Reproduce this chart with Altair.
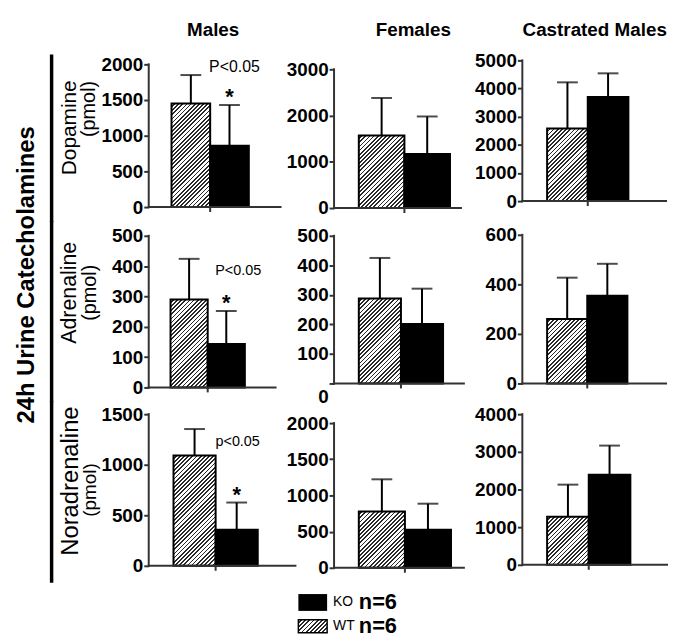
import altair as alt
import pandas as pd

# ---------------- data ----------------
groups = ["WT", "KO"]
column_titles = ["Males", "Females", "Castrated Males"]
row_names = ["Dopamine", "Adrenaline", "Noradrenaline"]
unit_label = "(pmol)"

# columns: Males, Females, Castrated Males
dopamine_wt = [1450, 1570, 2580]
dopamine_wt_err = [400, 810, 1640]
dopamine_ko = [860, 1170, 3700]
dopamine_ko_err = [570, 810, 840]

adrenaline_wt = [290, 288, 260]
adrenaline_wt_err = [134, 137, 167]
adrenaline_ko = [143, 201, 354]
adrenaline_ko_err = [109, 120, 129]

noradrenaline_wt = [1092, 777, 1277]
noradrenaline_wt_err = [261, 446, 852]
noradrenaline_ko = [358, 525, 2393]
noradrenaline_ko_err = [268, 361, 773]

dopamine_ticks = [[0, 500, 1000, 1500, 2000], [0, 1000, 2000, 3000], [0, 1000, 2000, 3000, 4000, 5000]]
adrenaline_ticks = [[0, 100, 200, 300, 400, 500], [0, 100, 200, 300, 400, 500], [0, 200, 400, 600]]
noradrenaline_ticks = [[0, 500, 1000, 1500], [0, 500, 1000, 1500, 2000], [0, 1000, 2000, 3000, 4000]]

significance = ["P<0.05", "P<0.05", "p<0.05"]
legend_groups = ["KO", "WT"]
legend_n = ["n=6", "n=6"]
big_title = "24h Urine Catecholamines"

wt_mean = [dopamine_wt, adrenaline_wt, noradrenaline_wt]
wt_err = [dopamine_wt_err, adrenaline_wt_err, noradrenaline_wt_err]
ko_mean = [dopamine_ko, adrenaline_ko, noradrenaline_ko]
ko_err = [dopamine_ko_err, adrenaline_ko_err, noradrenaline_ko_err]
ticks = [dopamine_ticks, adrenaline_ticks, noradrenaline_ticks]

# ---------------- layout / style ----------------
FONT = "Liberation Sans"
INK = "#000000"
AXC = "#333333"

row_top = [55, 230, 412]
row_h = [155, 162, 162]
col_w = [167, 170, 146]
zero_px = [[206, 207, 200], [388, 384, 384], [568, 570, 567]]
top_px = [[62, 67, 58], [235, 235, 234], [415, 424, 415]]
bar_start = [[23, 25, 25], [22, 25, 25], [25, 25, 25]]
bar_w = [[39, 46, 41], [37.5, 42.5, 40.5], [42.5, 46.5, 42]]
base_len = [[133, 128, 145], [128, 131, 145], [148, 131, 146]]
cap_w = 21
title_x = [65, 80, 73]
p_off = [(5, -38, 16), (12, -40, 14.5), (1, -61, 14.5)]
vline = [(-3, 166), (-10, 173), (-10, 173)]
# y-label text: (x, y, size) of name line and unit line, relative to panel origin
name_pos = [(-79, 71, 21), (-79.5, 62.5, 21.5), (-78.5, 70.5, 24)]
unit_pos = [(-60, 52, 20), (-59, 62.5, 20), (-59, 79.5, 19)]


def hatch(w, h, period=4.2, frac=0.42, ink="#2a2a2a"):
    tot = w + h
    c = tot / (w * w + h * h)
    stops = []
    pos = 0.0
    while pos < tot - 1e-9:
        a = pos / tot
        b = min((pos + period * (1 - frac)) / tot, 1.0)
        e = min((pos + period) / tot, 1.0)
        stops += [
            {"offset": a, "color": "#ffffff"},
            {"offset": b, "color": "#ffffff"},
            {"offset": b, "color": ink},
            {"offset": e, "color": ink},
        ]
        pos += period
    return {"gradient": "linear", "x1": 0, "y1": 0, "x2": w * c, "y2": h * c, "stops": stops}


def label_layer(text, x, y, size, weight="normal", angle=0, align="center", baseline="middle"):
    kw = dict(font=FONT, fontSize=size, fontWeight=weight, align=align, baseline=baseline, color=INK)
    if angle:
        kw["angle"] = angle
    return alt.Chart(pd.DataFrame({"t": [text]})).mark_text(**kw).encode(
        x=alt.value(x), y=alt.value(y), text="t:N")


def panel(r, c):
    W, H = col_w[c], row_h[r]
    tv = ticks[r][c]
    T = tv[-1]
    y0 = zero_px[r][c] - row_top[r]
    yT = top_px[r][c] - row_top[r]
    k = (y0 - yT) / T
    lo = -(H - y0) / k
    hi = T + yT / k
    yscale = alt.Scale(domain=[lo, hi], nice=False, zero=False)
    b = bar_w[r][c]
    s0 = bar_start[r][c]
    xscale = alt.Scale(domain=groups, range=[s0, s0 + 2 * b], paddingInner=0, paddingOuter=0)
    X = alt.X("g:N", scale=xscale, axis=None)

    df = pd.DataFrame({
        "g": groups,
        "mean": [wt_mean[r][c], ko_mean[r][c]],
        "err": [wt_err[r][c], ko_err[r][c]],
        "zero": [0, 0],
        "axtop": [T, T],
    })
    df["top"] = df["mean"] + df["err"]
    base = alt.Chart(df)

    axis_kw = dict(values=tv, format="d", domain=False, grid=False, tickSize=5, tickWidth=2,
                   tickColor=AXC, labelFont=FONT, labelFontSize=19, labelFontWeight="bold",
                   labelColor=INK, labelPadding=1, title=None)
    if r == 1 and c == 1:
        axis_kw.update(labelOffset={"condition": {"test": "datum.value === 0", "value": 13}, "value": 0})
    yaxis = alt.Axis(**axis_kw)

    def Y(field):
        return alt.Y(field, type="quantitative", scale=yscale, axis=yaxis)

    wt_bar = base.transform_filter("datum.g == 'WT'").mark_bar(
        fill=hatch(b, wt_mean[r][c] * k), stroke=INK, strokeWidth=2
    ).encode(x=X, y=Y("mean"), y2="zero")
    ko_bar = base.transform_filter("datum.g == 'KO'").mark_bar(
        fill=INK, stroke=INK, strokeWidth=2
    ).encode(x=X, y=Y("mean"), y2="zero")
    err = base.mark_rule(color=INK, strokeWidth=2).encode(x=X, y=Y("mean"), y2="top")
    cap = base.mark_tick(color=INK, thickness=2, size=cap_w).encode(x=X, y=Y("top"))
    first = base.transform_filter("datum.g == 'WT'")
    yline = first.mark_rule(color=AXC, strokeWidth=2, strokeCap="square").encode(
        x=alt.value(0), y=Y("zero"), y2="axtop")
    xline = first.mark_rule(color=AXC, strokeWidth=2, strokeCap="square").encode(
        x=alt.value(0), x2=alt.value(min(base_len[r][c], W)), y=Y("zero"))
    xtick = first.mark_rule(color=AXC, strokeWidth=2).encode(
        x=alt.value(s0 + b), y=Y("zero"), y2=alt.value(y0 + 5))

    layers = [wt_bar, ko_bar, err, cap, yline, xline, xtick]

    if c == 0:
        ko = base.transform_filter("datum.g == 'KO'")
        star = ko.mark_text(text="*", font=FONT, fontSize=22, fontWeight="bold", baseline="alphabetic",
                            dy=-1, color=INK).encode(x=X, y=Y("top"))
        dx, dy, fs = p_off[r]
        ptxt = ko.mark_text(text=significance[r], font=FONT, fontSize=fs, baseline="middle",
                            dx=dx, dy=dy, color=INK).encode(x=X, y=Y("top"))
        vt, vb = vline[r]
        vrule = first.mark_rule(color=INK, strokeWidth=3.5).encode(
            x=alt.value(-98), y=alt.value(vt), y2=alt.value(vb))
        nx, ny, ns = name_pos[r]
        ux, uy, us = unit_pos[r]
        layers += [star, ptxt, vrule,
                   label_layer(row_names[r], nx, ny, ns, angle=270),
                   label_layer(unit_label, ux, uy, us, angle=270)]
        if r == 1:
            layers.append(label_layer(big_title, -116, 44.5, 24, weight="bold", angle=270,
                                      baseline="alphabetic"))
    if r == 0:
        layers.append(label_layer(column_titles[c], title_x[c], -22, 19, weight="bold",
                                  baseline="alphabetic"))

    return alt.layer(*layers).properties(width=W, height=H)


panels = [panel(r, c) for r in range(3) for c in range(3)]

# ---------------- legend ----------------
ldf = pd.DataFrame({"g": legend_groups, "n": legend_n})
LY = alt.Y("g:N", scale=alt.Scale(type="point", domain=legend_groups, range=[11, 35], padding=0), axis=None)
lbase = alt.Chart(ldf)
l_ko = lbase.transform_filter("datum.g == 'KO'").mark_bar(height=17, fill=INK).encode(
    x=alt.value(151), x2=alt.value(180), y=LY)
l_wt = lbase.transform_filter("datum.g == 'WT'").mark_bar(
    height=13, fill=hatch(29, 13), stroke=INK, strokeWidth=1.5).encode(
    x=alt.value(151), x2=alt.value(180), y=LY)
l_lab = lbase.mark_text(font=FONT, fontSize=14, align="left", baseline="middle", color=INK).encode(
    x=alt.value(186), y=LY, text="g:N")
l_n = lbase.mark_text(font=FONT, fontSize=22, fontWeight="bold", align="left", baseline="middle",
                      color=INK).encode(x=alt.value(212), y=LY, text="n:N")
legend = alt.layer(l_ko, l_wt, l_lab, l_n).properties(width=100, height=35)

chart = alt.concat(*panels, legend, columns=3, spacing=20, bounds="flush", align="each").properties(
    padding={"left": 7, "top": 10, "right": 2, "bottom": 0}, background="white"
).configure_view(strokeWidth=0)

chart.save("out.html", embed_options={"renderer": "svg", "actions": False})
